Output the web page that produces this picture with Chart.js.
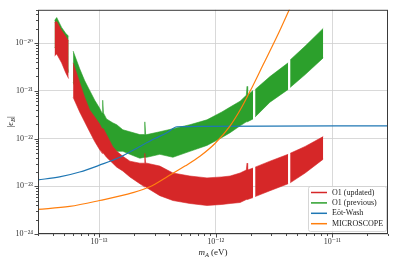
<!DOCTYPE html>
<html lang="en">
<head>
<meta charset="UTF-8">
<title>O1 limits on epsilon_B</title>
<script src="https://cdn.jsdelivr.net/npm/chart.js"></script>
<style>
  body { margin: 0; background: #fff; }
  #wrap { width: 395px; height: 263px; }
</style>
</head>
<body>
<div id="wrap"><canvas id="limits" width="395" height="263"></canvas></div>
<script>
// mass grid (eV) shared by both O1 bands; the null rows are the holes in the data
const bandMass = [4.16e-14, 4.34e-14, 4.78e-14, 5.18e-14, 5.49e-14, 5.7e-14,
  6.0e-14, 6.83e-14, 7.53e-14, 8.32e-14, 9.19e-14, 1.01e-13,
  1.061e-13, 1.076e-13, 1.091e-13,
  1.16e-13, 1.31e-13, 1.42e-13, 1.60e-13, 1.84e-13, 2.24e-13,
  2.44e-13, 2.47e-13, 2.51e-13,
  2.57e-13, 3.32e-13, 4.30e-13, 6.01e-13, 8.42e-13, 1.13e-12, 1.33e-12, 1.62e-12,
  1.83e-12, 1.86e-12, 1.88e-12,
  2.09e-12, 2.13e-12, 2.18e-12, 2.92e-12,
  4.18e-12, 4.26e-12, 4.35e-12, 5.85e-12, 8.35e-12];

// O1 (updated): upper / lower edge of the red band
const updatedHi = [2.71e-20, 2.84e-20, 1.85e-20, 1.39e-20, 1.10e-20, null,
  3.87e-21, 1.50e-21, 7.34e-22, 3.96e-22, 2.84e-22, 2.04e-22,
  1.61e-22, 1.61e-22, 1.61e-22,
  1.21e-22, 6.84e-23, 5.40e-23, 4.26e-23, 3.36e-23, 3.05e-23,
  3.05e-23, 4.91e-23, 3.05e-23,
  3.05e-23, 2.65e-23, 1.90e-23, 1.64e-23, 1.50e-23, 1.57e-23, 1.64e-23, 1.90e-23,
  2.19e-23, 3.05e-23, 2.19e-23,
  2.41e-23, null, 2.52e-23, 3.36e-23,
  4.68e-23, null, 4.91e-23, 6.84e-23, 1.10e-22];
const updatedLo = [5.40e-21, 5.93e-21, 3.87e-21, 2.41e-21, 1.81e-21, null,
  7.34e-22, 3.61e-22, 2.24e-22, 1.39e-22, 8.67e-23, 5.93e-23,
  4.91e-23, 4.91e-23, 4.91e-23,
  4.06e-23, 3.05e-23, 2.52e-23, 2.09e-23, 1.57e-23, 1.13e-23,
  9.77e-24, 9.77e-24, 9.77e-24,
  9.31e-24, 6.37e-24, 5.03e-24, 4.36e-24, 3.96e-24, 4.16e-24, 4.36e-24, 4.57e-24,
  5.27e-24, 5.27e-24, 5.27e-24,
  5.79e-24, null, 6.08e-24, 8.07e-24,
  1.13e-23, null, 1.18e-23, 1.90e-23, 3.69e-23];

// O1 (previous): upper / lower edge of the green band
const previousHi = [2.98e-20, 3.44e-20, 2.14e-20, 1.61e-20, 1.39e-20, null,
  6.84e-21, 2.91e-21, 1.64e-21, 1.02e-21, 6.37e-22, 4.36e-22,
  3.44e-22, 6.37e-22, 3.44e-22,
  2.58e-22, 2.14e-22, 1.95e-22, 1.53e-22, 1.39e-22, 1.21e-22,
  1.21e-22, 2.24e-22, 1.21e-22,
  1.21e-22, 1.39e-22, 1.61e-22, 1.95e-22, 2.47e-22, 3.61e-22, 4.57e-22, 6.08e-22,
  8.07e-22, 1.24e-21, 8.07e-22,
  1.02e-21, null, 1.07e-21, 1.99e-21,
  3.87e-21, null, 4.46e-21, 8.67e-21, 2.04e-20];
const previousLo = [7.89e-21, 9.10e-21, 6.22e-21, 4.26e-21, 2.41e-21, null,
  1.50e-21, 7.34e-22, 4.57e-22, 3.28e-22, 2.47e-22, 1.77e-22,
  1.39e-22, 1.39e-22, 1.39e-22,
  9.53e-23, 6.22e-23, 5.40e-23, 5.40e-23, 4.68e-23, 3.87e-23,
  4.06e-23, 4.06e-23, 4.06e-23,
  4.06e-23, 4.68e-23, 4.06e-23, 5.40e-23, 7.18e-23, 1.05e-22, 1.33e-22, 1.85e-22,
  2.24e-22, 2.24e-22, 2.24e-22,
  2.58e-22, null, 2.84e-22, 5.79e-22,
  1.07e-21, null, 1.18e-21, 2.19e-21, 4.91e-21];

// Eöt-Wash
const eotMass = [2.97e-14, 4.59e-14, 6.83e-14, 1.01e-13, 1.51e-13, 2.24e-13,
  3.01e-13, 3.82e-13, 4.66e-13, 7.33e-13, 3.02e-11];
const eotEps = [1.36e-23, 1.57e-23, 1.99e-23, 2.77e-23, 4.06e-23, 6.84e-23,
  1.00e-22, 1.33e-22, 1.77e-22, 1.81e-22, 1.85e-22];

// MICROSCOPE
const micMass = [2.97e-14, 5.6e-14, 1.01e-13, 1.95e-13, 2.73e-13, 3.82e-13,
  5.45e-13, 7.33e-13, 9.86e-13, 1.33e-12, 1.62e-12, 1.97e-12, 2.55e-12,
  3.36e-12, 4.35e-12, 5.30e-12];
const micEps = [3.27e-24, 3.78e-24, 5.03e-24, 7.34e-24, 9.77e-24, 1.57e-23,
  2.65e-23, 4.26e-23, 7.88e-23, 1.85e-22, 3.96e-22, 9.77e-22, 3.52e-21,
  1.39e-20, 5.52e-20, 1.57e-19];

const legendLabels = ['O1 (updated)', 'O1 (previous)', 'Eöt-Wash', 'MICROSCOPE'];
const legendColors = ['#d62728', '#2ca02c', '#1f77b4', '#ff7f0e'];

const xRange = [3e-14, 3e-11];
const yRange = [1e-24, 5e-20];

const pts = (xs, ys) => xs.map((x, i) => ({x: x, y: ys[i]}));

const isDecade = v => Math.abs(Math.log10(v) - Math.round(Math.log10(v))) < 1e-6;
const sup = {'-': '⁻', '0': '⁰', '1': '¹', '2': '²', '3': '³', '4': '⁴',
  '5': '⁵', '6': '⁶', '7': '⁷', '8': '⁸', '9': '⁹'};
const powLabel = v => isDecade(v)
  ? '10' + String(Math.round(Math.log10(v))).split('').map(c => sup[c]).join('')
  : '';

// decades plus 2..9 in between
function logTicks(scale) {
  const out = [];
  const lo = Math.floor(Math.log10(scale.min));
  const hi = Math.ceil(Math.log10(scale.max));
  for (let e = lo; e <= hi; e++) {
    for (let k = 1; k < 10; k++) {
      const v = k * Math.pow(10, e);
      if (v >= scale.min * 0.999 && v <= scale.max * 1.001) out.push({value: v, major: k === 1});
    }
  }
  scale.ticks = out;
}

const serif = "'Liberation Serif', 'DejaVu Serif', serif";

// frame, tick marks, axis titles and the boxed legend
const decor = {
  id: 'decor',
  afterDraw(chart) {
    const {ctx, chartArea: a, scales} = chart;
    const x = scales.x, y = scales.y;
    ctx.save();

    ctx.strokeStyle = '#3a3a3a';
    ctx.lineWidth = 0.9;
    ctx.beginPath();
    x.ticks.forEach(t => {
      const px = Math.round(x.getPixelForValue(t.value)) + 0.5;
      ctx.moveTo(px, a.bottom);
      ctx.lineTo(px, a.bottom + (isDecade(t.value) ? 3.5 : 2));
    });
    y.ticks.forEach(t => {
      const py = Math.round(y.getPixelForValue(t.value)) + 0.5;
      ctx.moveTo(a.left, py);
      ctx.lineTo(a.left - (isDecade(t.value) ? 3.5 : 2), py);
    });
    ctx.stroke();

    ctx.lineWidth = 1;
    ctx.strokeRect(a.left + 0.5, a.top + 0.5, a.right - a.left - 1, a.bottom - a.top - 1);

    // x title: m_A (eV)
    ctx.fillStyle = '#222';
    ctx.textBaseline = 'alphabetic';
    const cx = (a.left + a.right) / 2;
    const ty = 255;
    ctx.font = 'italic 9px ' + serif;
    const wm = ctx.measureText('m').width;
    ctx.font = 'italic 6.5px ' + serif;
    const wa = ctx.measureText('A').width;
    ctx.font = '9px ' + serif;
    const we = ctx.measureText(' (eV)').width;
    let sx = cx - (wm + wa + we) / 2;
    ctx.textAlign = 'left';
    ctx.font = 'italic 9px ' + serif;
    ctx.fillText('m', sx, ty);
    ctx.font = 'italic 6.5px ' + serif;
    ctx.fillText('A', sx + wm, ty + 2);
    ctx.font = '9px ' + serif;
    ctx.fillText(' (eV)', sx + wm + wa, ty);

    // y title: |eps_B|
    ctx.save();
    ctx.translate(13, (a.top + a.bottom) / 2);
    ctx.rotate(-Math.PI / 2);
    ctx.font = '9px ' + serif;
    const wbar = ctx.measureText('|').width;
    ctx.font = 'italic 9px ' + serif;
    const weps = ctx.measureText('ϵ').width;
    ctx.font = 'italic 6.5px ' + serif;
    const wb = ctx.measureText('B').width;
    sx = -(2 * wbar + weps + wb) / 2;
    ctx.font = '9px ' + serif;
    ctx.fillText('|', sx, 0);
    ctx.font = 'italic 9px ' + serif;
    ctx.fillText('ϵ', sx + wbar, 0);
    ctx.font = 'italic 6.5px ' + serif;
    ctx.fillText('B', sx + wbar + weps, 2);
    ctx.font = '9px ' + serif;
    ctx.fillText('|', sx + wbar + weps + wb, 0);
    ctx.restore();

    // legend in the lower right corner
    const bx = 308, by = 186, bw = 78, bh = 45;
    ctx.beginPath();
    ctx.roundRect(bx + 0.5, by + 0.5, bw, bh, 2);
    ctx.fillStyle = 'rgba(255,255,255,0.85)';
    ctx.fill();
    ctx.strokeStyle = '#cccccc';
    ctx.lineWidth = 0.8;
    ctx.stroke();
    ctx.font = '8px ' + serif;
    ctx.textBaseline = 'middle';
    legendLabels.forEach((lab, i) => {
      const ly = by + 6.5 + i * 10.4;
      ctx.strokeStyle = legendColors[i];
      ctx.lineWidth = 1.5;
      ctx.beginPath();
      ctx.moveTo(311, ly);
      ctx.lineTo(327, ly);
      ctx.stroke();
      ctx.fillStyle = '#222';
      ctx.fillText(lab, 332, ly);
    });
    ctx.restore();
  }
};

const band = (data, color, fill, order) => ({
  data: data,
  borderColor: color,
  backgroundColor: color,
  borderWidth: 0.6,
  pointRadius: 0,
  tension: 0,
  spanGaps: false,
  fill: fill,
  order: order
});

new Chart(document.getElementById('limits'), {
  type: 'line',
  data: {
    datasets: [
      band(pts(bandMass, updatedHi), legendColors[0], '+1', 3),
      band(pts(bandMass, updatedLo), legendColors[0], false, 3),
      band(pts(bandMass, previousHi), legendColors[1], '+1', 5),
      band(pts(bandMass, previousLo), legendColors[1], false, 5),
      {
        data: pts(eotMass, eotEps),
        borderColor: legendColors[2],
        borderWidth: 1.2,
        pointRadius: 0,
        cubicInterpolationMode: 'monotone',
        fill: false,
        order: 2
      },
      {
        data: pts(micMass, micEps),
        borderColor: legendColors[3],
        borderWidth: 1.2,
        pointRadius: 0,
        cubicInterpolationMode: 'monotone',
        fill: false,
        order: 1
      }
    ]
  },
  options: {
    responsive: false,
    animation: false,
    events: [],
    layout: { padding: { top: 6, right: 7, left: 0, bottom: 0 } },
    plugins: { legend: { display: false }, tooltip: { enabled: false } },
    scales: {
      x: {
        type: 'logarithmic',
        min: xRange[0],
        max: xRange[1],
        afterBuildTicks: logTicks,
        afterFit: s => { s.height = 29; },
        border: { display: false },
        grid: {
          drawTicks: false,
          lineWidth: 0.8,
          color: c => (c.tick && isDecade(c.tick.value)) ? '#cfcfcf' : 'rgba(0,0,0,0)'
        },
        ticks: {
          autoSkip: false,
          maxRotation: 0,
          padding: 3,
          color: '#333',
          font: { family: serif, size: 8 },
          callback: v => powLabel(v)
        }
      },
      y: {
        type: 'logarithmic',
        min: yRange[0],
        max: yRange[1],
        afterBuildTicks: logTicks,
        afterFit: s => { s.width = 38; },
        border: { display: false },
        grid: {
          drawTicks: false,
          lineWidth: 0.8,
          color: c => (c.tick && isDecade(c.tick.value)) ? '#cfcfcf' : 'rgba(0,0,0,0)'
        },
        ticks: {
          autoSkip: false,
          padding: 5,
          color: '#333',
          font: { family: serif, size: 8 },
          callback: v => powLabel(v)
        }
      }
    }
  },
  plugins: [decor]
});
</script>
</body>
</html>
